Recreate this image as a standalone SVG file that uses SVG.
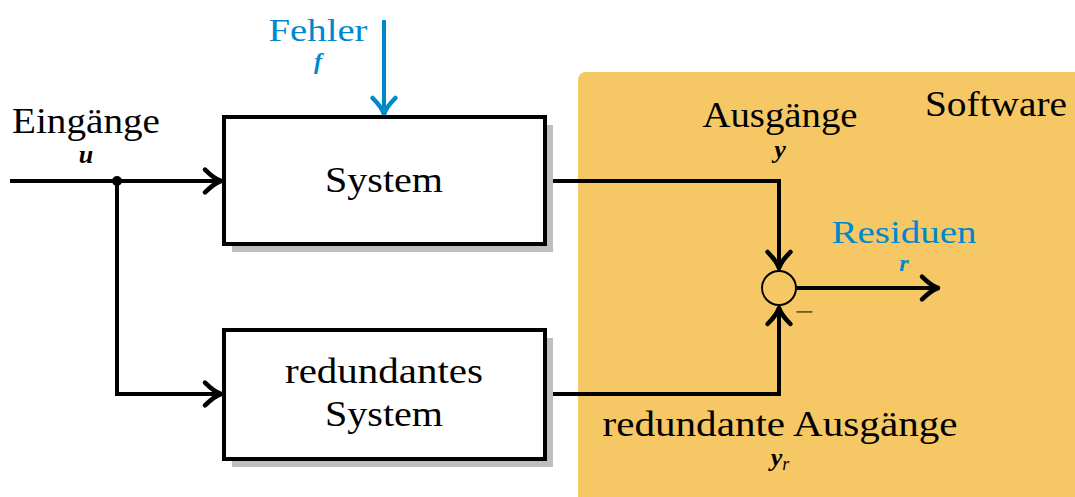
<svg xmlns="http://www.w3.org/2000/svg" width="1075" height="497" viewBox="0 0 1075 497">
<style>
.t{font-family:"Liberation Serif","Times New Roman",serif;font-size:35px;fill:#000;text-anchor:middle}
.m{font-family:"Liberation Serif","Times New Roman",serif;font-size:26px;font-weight:bold;font-style:italic;fill:#000;text-anchor:middle}
.blue{fill:#0088CC}
.box{fill:#fff;stroke:#000;stroke-width:4}
.sh{fill:#BEBEBE}
.ln{fill:none;stroke:#000;stroke-width:4}
</style>
<defs>
<marker id="ah" markerUnits="userSpaceOnUse" markerWidth="32" markerHeight="32" viewBox="-18 -14 22 28" refX="0" refY="0" orient="auto">
<path d="M-14,-10 Q-6,-2 0,0 Q-6,2 -14,10" fill="none" stroke="#000" stroke-width="4" stroke-linecap="round" stroke-linejoin="round"/>
</marker>
<marker id="ahb" markerUnits="userSpaceOnUse" markerWidth="32" markerHeight="32" viewBox="-18 -14 22 28" refX="0" refY="0" orient="auto">
<path d="M-14,-10 Q-6,-2 0,0 Q-6,2 -14,10" fill="none" stroke="#0088CC" stroke-width="4" stroke-linecap="round" stroke-linejoin="round"/>
</marker>
</defs>
<g id="software">
<rect x="578" y="72" width="520" height="450" rx="8" fill="#F6C765"/>
<text class="t" x="996" y="116" textLength="142" lengthAdjust="spacingAndGlyphs">Software</text>
</g>
<g id="connectors">
<path class="ln" d="M10,181 H221" marker-end="url(#ah)"/>
<path class="ln" d="M117,181 V394 H221" marker-end="url(#ah)"/>
<path d="M384,20 V114" fill="none" stroke="#0088CC" stroke-width="4" marker-end="url(#ahb)"/>
<path class="ln" d="M545,181 H779 V268" marker-end="url(#ah)"/>
<path class="ln" d="M545,394 H779 V308" marker-end="url(#ah)"/>
<path class="ln" d="M796,288 H938" marker-end="url(#ah)"/>
<circle cx="117" cy="181" r="5" fill="#000"/>
</g>
<g id="fehler">
<text class="t blue" x="318" y="41" font-size="32" style="font-size:32px" textLength="99" lengthAdjust="spacingAndGlyphs">Fehler</text>
<text class="m blue" x="318" y="69" style="font-size:24px">f</text>
</g>
<g id="eingaenge">
<text class="t" x="86" y="133" textLength="148" lengthAdjust="spacingAndGlyphs">Eingänge</text>
<text class="m" x="86" y="163">u</text>
</g>
<g id="system">
<rect class="sh" x="232" y="125" width="321" height="127"/>
<rect class="box" x="224" y="117" width="321" height="127"/>
<text class="t" x="384" y="192" textLength="118" lengthAdjust="spacingAndGlyphs">System</text>
</g>
<g id="redundantes-system">
<rect class="sh" x="232" y="338" width="321" height="129"/>
<rect class="box" x="224" y="330" width="321" height="129"/>
<text class="t" x="384" y="383" textLength="198" lengthAdjust="spacingAndGlyphs">redundantes</text>
<text class="t" x="384" y="426" textLength="118" lengthAdjust="spacingAndGlyphs">System</text>
</g>
<g id="ausgaenge">
<text class="t" x="780" y="127" textLength="155" lengthAdjust="spacingAndGlyphs">Ausgänge</text>
<text class="m" x="780" y="158">y</text>
</g>
<g id="summation">
<circle cx="779" cy="288" r="17" fill="none" stroke="#000" stroke-width="2"/>
<text x="804" y="323" font-family="Liberation Serif,serif" font-size="34" fill="#6b5a30" text-anchor="middle">−</text>
</g>
<g id="residuen">
<text class="t blue" x="904" y="243" style="font-size:32px" textLength="145" lengthAdjust="spacingAndGlyphs">Residuen</text>
<text class="m blue" x="904" y="271" style="font-size:24px">r</text>
</g>
<g id="redundante-ausgaenge">
<text class="t" x="780" y="436" textLength="355" lengthAdjust="spacingAndGlyphs">redundante Ausgänge</text>
<text x="780" y="466" font-family="Liberation Serif,serif" text-anchor="middle"><tspan font-size="26" font-weight="bold" font-style="italic">y</tspan><tspan font-size="18" font-style="italic" dy="4">r</tspan></text>
</g>
</svg>
